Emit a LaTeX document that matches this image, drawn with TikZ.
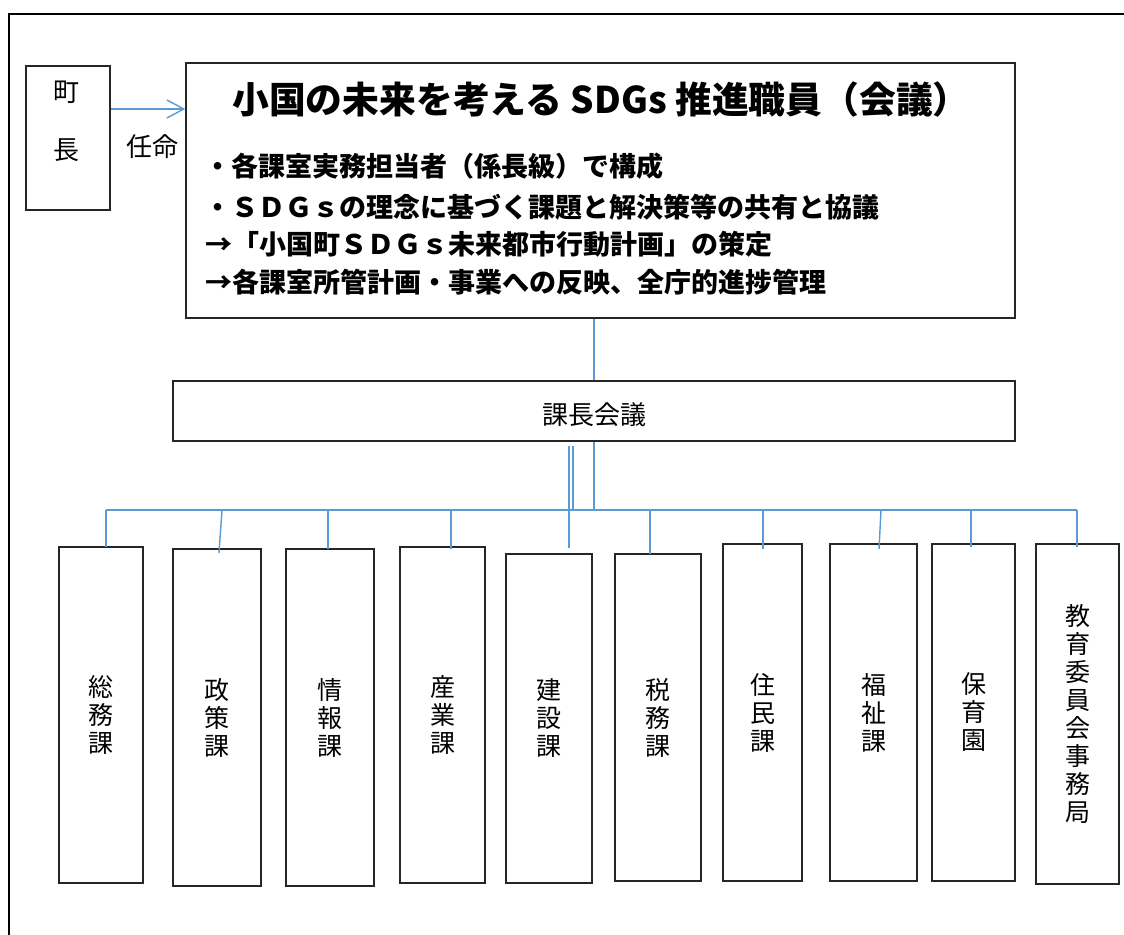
\documentclass[tikz,border=0pt]{standalone}
\usepackage{fontspec}
\newfontfamily\jp{Noto Sans CJK JP}
\usetikzlibrary{arrows.meta}
\definecolor{lineblue}{HTML}{5B9BD5}
\tikzset{
  box/.style={draw=black!85, line width=1.3pt, inner sep=0pt, rectangle},
  link/.style={draw=lineblue, line width=1.4pt},
  dept/.style={box, align=center, font=\jp\fontsize{25}{28}\selectfont},
  plain/.style={inner sep=0pt, font=\jp\fontsize{26}{30}\selectfont},
  bullet/.style={inner sep=0pt, anchor=west, font=\jp\bfseries\fontsize{27}{30}\selectfont},
}
\begin{document}
\begin{tikzpicture}[x=1pt,y=-1pt]
\useasboundingbox (0,0) rectangle (1124,934);
% outer frame
\draw[line width=2.5pt, black] (1130,14) -- (9,14) -- (9,940);

% mayor
\node[box, minimum width=84pt, minimum height=144pt] (mayor) at (68,138) {};
\node[plain] (mayorA) at (66,92) {町};
\node[plain] (mayorB) at (66,150) {長};
\node[plain] (ninmei) at (152,147) {任命};

% top box
\node[box, minimum width=829pt, minimum height=255pt] (sdg) at (600.5,190.5) {};
\node[inner sep=0pt, font=\jp\bfseries\fontsize{36.8}{40}\selectfont] (title) at (601,100) {小国の未来を考える SDGs 推進職員（会議）};
\node[bullet] (l1) at (204,166) {・各課室実務担当者（係長級）で構成};
\node[bullet] (l2) at (204,207) {・ＳＤＧｓの理念に基づく課題と解決策等の共有と協議};
\node[bullet] (l3) at (205,244) {→「小国町ＳＤＧｓ未来都市行動計画」の策定};
\node[bullet] (l4) at (205,282) {→各課室所管計画・事業への反映、全庁的進捗管理};

\draw[link, -{Straight Barb[length=17pt,width=18pt]}] (mayor.east |- 0,109) -- (sdg.west |- 0,109);

% kacho
\node[box, minimum width=842pt, minimum height=60pt] (kacho) at (594,411) {};
\node[plain] (kachoT) at (594,415) {課長会議};
\draw[link] (sdg.south -| kacho.north) -- (kacho.north);

% departments
\node[dept, minimum width=84pt, minimum height=336pt] (b1) at (101,715) {総\\務\\課};
\node[dept, minimum width=88pt, minimum height=337pt] (b2) at (217,717.5) {政\\策\\課};
\node[dept, minimum width=88pt, minimum height=337pt] (b3) at (330,717.5) {情\\報\\課};
\node[dept, minimum width=85pt, minimum height=336pt] (b4) at (442.5,715) {産\\業\\課};
\node[dept, minimum width=86pt, minimum height=329pt] (b5) at (549,718.5) {建\\設\\課};
\node[dept, minimum width=86pt, minimum height=327pt] (b6) at (658,717.5) {税\\務\\課};
\node[dept, minimum width=79pt, minimum height=337pt] (b7) at (762.5,712.5) {住\\民\\課};
\node[dept, minimum width=87pt, minimum height=337pt] (b8) at (873.5,712.5) {福\\祉\\課};
\node[dept, minimum width=83pt, minimum height=337pt] (b9) at (973.5,712.5) {保\\育\\園};
\node[dept, minimum width=83pt, minimum height=340pt] (b10) at (1077.5,714) {教\\育\\委\\員\\会\\事\\務\\局};

% bus
\coordinate (busL) at (106,510);
\coordinate (busR) at (1077,510);
\draw[link] (busL) -- (busR);
\draw[link] (kacho.south) -- (kacho.south |- busL);
% double thick stub
\coordinate (d1) at (569,446);
\coordinate (d2) at (573,446);
\draw[link, line width=2.2pt] (d1) -- (d1 |- busL);
\draw[link, line width=2.2pt] (d2) -- (d2 |- busL);

% drops
\coordinate (j1) at (106,510);  \coordinate (e1) at (106,547);
\coordinate (j2) at (222,510);  \coordinate (e2) at (219,553);
\coordinate (j3) at (328,510);  \coordinate (e3) at (328,549);
\coordinate (j4) at (451,510);  \coordinate (e4) at (451,549);
\coordinate (j5) at (569,510);  \coordinate (e5) at (569,548);
\coordinate (j6) at (650,510);  \coordinate (e6) at (650,554);
\coordinate (j7) at (763,510);  \coordinate (e7) at (763,549);
\coordinate (j8) at (881,510);  \coordinate (e8) at (879,549);
\coordinate (j9) at (971,510);  \coordinate (e9) at (971,547);
\coordinate (j10) at (1077,510); \coordinate (e10) at (1077,547);
\foreach \i in {1,...,10} { \draw[link] (j\i) -- (e\i); }
\end{tikzpicture}
\end{document}
